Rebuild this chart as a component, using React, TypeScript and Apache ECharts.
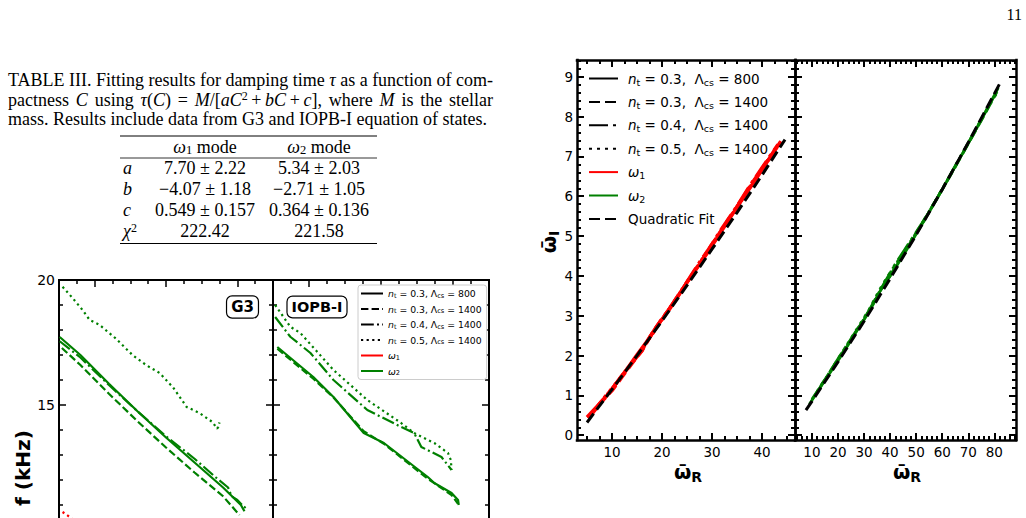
import React, { useEffect, useRef } from "react";
import * as echarts from "echarts";

type P = [number, number];

// ---------------- Page text ----------------
const PAGE_NUMBER = "11";
const CAPTION_LINES = [
  "TABLE III. Fitting results for damping time {i|τ} as a function of com-",
  "pactness {i|C} using {i|τ}({i|C}) = {i|M}/[{i|aC}{sup|2}\u2009+\u2009{i|bC}\u2009+\u2009{i|c}], where {i|M} is the stellar",
  "mass. Results include data from G3 and IOPB-I equation of states.",
];
const CAPTION_JUSTIFY = [true, true, false];
const TABLE_HEADERS = ["{i|ω}{sub|1} mode", "{i|ω}{sub|2} mode"];
const TABLE_ROW_LABELS = ["{i|a}", "{i|b}", "{i|c}", "{i|χ}{sup|2}"];
const TABLE_COL1 = ["7.70 ± 2.22", "−4.07 ± 1.18", "0.549 ± 0.157", "222.42"];
const TABLE_COL2 = ["5.34 ± 2.03", "−2.71 ± 1.05", "0.364 ± 0.136", "221.58"];

// ---------------- Left figure: f (kHz) ----------------
const F_Y_MAJOR = [5, 10, 15, 20];
const F_Y_LABELS = [15, 20];
const F_X_MAJOR = [1, 2, 3];
const F_Y_LABEL = "f (kHz)";
const PANEL_LABELS = ["G3", "IOPB-I"];

const G3_W2_SOLID: P[] = [[0.51, 17.72], [0.8, 17.0], [1.2, 15.85], [1.6, 14.75], [2.0, 13.7], [2.4, 12.7], [2.8, 11.7], [3.05, 11.0], [3.1, 10.75]];
const G3_W2_DASHED: P[] = [[0.54, 17.28], [0.8, 16.6], [1.2, 15.45], [1.6, 14.35], [2.0, 13.3], [2.4, 12.3], [2.8, 11.35], [3.03, 10.6]];
const G3_W2_DASHDOT: P[] = [[0.51, 17.55], [0.8, 16.9], [1.2, 15.8], [1.6, 14.75], [2.0, 13.75], [2.4, 12.85], [2.7, 12.1], [2.87, 11.7], [2.92, 11.35], [3.0, 11.2], [3.1, 10.9], [3.15, 11.0]];
const G3_W2_DOTTED: P[] = [[0.55, 19.73], [0.69, 19.28], [0.83, 18.8], [0.93, 18.4], [1.07, 18.2], [1.3, 17.65], [1.53, 17.0], [1.72, 16.6], [1.91, 16.28], [2.1, 15.7], [2.29, 14.92], [2.47, 14.68], [2.65, 14.32], [2.72, 14.05], [2.75, 14.3], [2.73, 14.1]];
const G3_W1_DOTTED: P[] = [[0.55, 10.72], [0.65, 10.52], [0.75, 10.3], [0.9, 9.95], [1.1, 9.5]];

const IOPB_W2_SOLID: P[] = [[0.56, 17.32], [1.06, 16.12], [1.34, 15.32], [1.76, 13.88], [2.04, 13.48], [2.65, 12.12], [2.74, 11.88], [2.98, 11.48], [3.07, 11.2], [3.08, 11.0]];
const IOPB_W2_DASHED: P[] = [[0.56, 17.25], [1.06, 16.05], [1.34, 15.3], [1.76, 13.95], [2.04, 13.45], [2.65, 12.05], [2.98, 11.4], [3.07, 11.05]];
const IOPB_W2_DASHDOT: P[] = [[0.53, 18.52], [0.74, 17.73], [1.02, 17.08], [1.34, 16.0], [1.81, 14.8], [2.28, 14.12], [2.46, 13.88], [2.56, 13.32], [2.7, 13.12], [2.84, 12.92], [2.98, 12.4]];
const IOPB_W2_DOTTED: P[] = [[0.53, 19.0], [0.74, 18.13], [0.88, 17.88], [1.34, 16.4], [1.81, 15.2], [2.28, 14.28], [2.46, 13.88], [2.74, 13.48], [2.93, 13.08], [2.97, 12.8], [2.98, 12.4]];

// ---------------- Right figure: omega_I vs omega_R ----------------
const OI_MAJOR = [0, 1, 2, 3, 4, 5, 6, 7, 8, 9];
const OR1_MAJOR = [10, 20, 30, 40];
const OR2_MAJOR = [10, 20, 30, 40, 50, 60, 70, 80];

const W1_FIT: P[] = [[5, 0.32], [10, 1.15], [15, 2.0], [20, 2.87], [25, 3.76], [30, 4.67], [35, 5.59], [40, 6.53], [44.6, 7.42]];
const W1_SOLID: P[] = [[5, 0.45], [7, 0.72], [9, 1.0], [11, 1.33], [13, 1.66], [15, 2.02], [17, 2.36], [19, 2.74], [21, 3.08], [23, 3.46], [25, 3.84], [27, 4.2], [29, 4.56], [31, 4.95], [33, 5.34], [35, 5.72], [37, 6.1], [39, 6.47], [41, 6.86], [43.6, 7.35]];
const W1_DASHED: P[] = [[5.3, 0.42], [7.5, 0.78], [10, 1.12], [12, 1.46], [14, 1.8], [16, 2.13], [18, 2.55], [20, 2.93], [22, 3.25], [24, 3.64], [26, 4.03], [28, 4.4], [30, 4.79], [32, 5.17], [34, 5.55], [36, 5.93], [38, 6.33], [40, 6.69], [42, 7.06], [43.8, 7.38]];
const W1_DASHDOT: P[] = [[6, 0.55], [8, 0.86], [10, 1.16], [12, 1.5], [14, 1.82], [16, 2.12], [17.5, 2.45], [19.5, 2.82], [21.5, 3.18], [23.5, 3.56], [25.5, 3.95], [27.5, 4.34], [29.5, 4.7], [31.5, 5.1], [33.5, 5.47], [35.5, 5.85], [37.5, 6.25], [39.5, 6.62], [41.5, 6.99], [43.2, 7.3]];
const W1_DOTTED: P[] = [[6.5, 0.62], [8.5, 0.95], [10.5, 1.25], [12.5, 1.58], [14.5, 1.9], [16.5, 2.25], [18.5, 2.62], [20.5, 3.0], [22.5, 3.36], [24.5, 3.74], [26.5, 4.12], [28.5, 4.5], [30.5, 4.88], [32.5, 5.26], [34.5, 5.64], [36.5, 6.02], [38.5, 6.4], [40.5, 6.78], [42.5, 7.12]];

const W2_FIT: P[] = [[7.7, 0.63], [10, 0.85], [20, 1.84], [30, 2.86], [40, 3.93], [50, 5.03], [60, 6.17], [70, 7.35], [82.5, 8.88]];
const W2_SOLID: P[] = [[9, 0.78], [12, 1.08], [15, 1.38], [18, 1.67], [21, 1.97], [24, 2.28], [27, 2.6], [30, 2.9], [33, 3.22], [36, 3.6], [39, 3.9], [42, 4.2], [46, 4.62], [50, 5.05], [55, 5.6], [60, 6.17], [65, 6.75], [70, 7.33], [75, 7.93], [81.5, 8.72]];
const W2_DASHED: P[] = [[10, 0.9], [14, 1.3], [18, 1.7], [22, 2.1], [26, 2.5], [30, 2.92], [34, 3.36], [37, 3.72], [40, 4.0], [44, 4.45], [48, 4.86], [53, 5.4], [58, 5.95], [64, 6.62], [70, 7.32], [76, 8.02], [81, 8.62]];
const W2_DASHDOT: P[] = [[11, 0.98], [16, 1.5], [21, 2.02], [26, 2.52], [31, 3.02], [35, 3.5], [38, 3.85], [42, 4.3], [46, 4.7], [52, 5.3], [58, 5.95], [66, 6.88], [74, 7.8], [80.5, 8.58]];
const W2_DOTTED: P[] = [[12, 1.1], [17, 1.6], [22, 2.12], [27, 2.64], [32, 3.16], [36, 3.66], [39, 3.98], [43, 4.38], [47, 4.78], [53, 5.38], [60, 6.18], [68, 7.1], [76, 8.05], [81, 8.6]];

// ---------------- Legend labels ----------------
const LEGEND_LEFT: Record<string, string> = {
  L1: "{it|n}{sub|t} = 0.3, Λ{sub|cs} = 800",
  L2: "{it|n}{sub|t} = 0.3, Λ{sub|cs} = 1400",
  L3: "{it|n}{sub|t} = 0.4, Λ{sub|cs} = 1400",
  L4: "{it|n}{sub|t} = 0.5, Λ{sub|cs} = 1400",
  L5: "{it|ω}{sub|1}",
  L6: "{it|ω}{sub|2}",
};
const LEGEND_RIGHT: Record<string, string> = {
  R1: "{it|n}{sub|t} = 0.3,  Λ{sub|cs} = 800",
  R2: "{it|n}{sub|t} = 0.3,  Λ{sub|cs} = 1400",
  R3: "{it|n}{sub|t} = 0.4,  Λ{sub|cs} = 1400",
  R4: "{it|n}{sub|t} = 0.5,  Λ{sub|cs} = 1400",
  R5: "{it|ω}{sub|1}",
  R6: "{it|ω}{sub|2}",
  R7: "Quadratic Fit",
};

// ---------------- Helpers ----------------
const SANS = "DejaVu Sans";
const SERIF = "Liberation Serif";
const RED = "#ff0000";
const GREEN = "#008000";
const CAP_FS = 18;
const CAP_SUP = 12;
const CAP_LH = 19;

function minors(from: number, to: number, step: number, majors: number[]) {
  const out: number[] = [];
  const n = Math.round((to - from) / step);
  for (let k = 0; k <= n; k++) {
    const v = +(from + k * step).toFixed(6);
    if (!majors.some((m) => Math.abs(m - v) < 1e-6)) out.push(v);
  }
  return out;
}

// Justify a rich caption line so that it spans the given width by widening word gaps.
function justify(line: string, width: number): string {
  const canvas = document.createElement("canvas");
  const ctx = canvas.getContext("2d");
  if (!ctx) return line;
  const re = /\{(\w+)\|([^}]*)\}/g;
  const segs: { style: string | null; text: string }[] = [];
  let last = 0;
  let m: RegExpExecArray | null;
  while ((m = re.exec(line))) {
    if (m.index > last) segs.push({ style: null, text: line.slice(last, m.index) });
    segs.push({ style: m[1], text: m[2] });
    last = m.index + m[0].length;
  }
  if (last < line.length) segs.push({ style: null, text: line.slice(last) });
  let nat = 0;
  let gaps = 0;
  for (const s of segs) {
    if (s.style === "i") ctx.font = `italic ${CAP_FS}px "${SERIF}"`;
    else if (s.style === "sup") ctx.font = `${CAP_SUP}px "${SERIF}"`;
    else ctx.font = `${CAP_FS}px "${SERIF}"`;
    if (s.style === null) {
      const parts = s.text.split(" ");
      gaps += parts.length - 1;
      for (const p of parts) nat += ctx.measureText(p).width;
    } else nat += ctx.measureText(s.text).width;
  }
  if (!gaps) return line;
  ctx.font = `${CAP_FS}px "${SERIF}"`;
  const sp = ctx.measureText(" ").width;
  const g = (width - nat) / gaps;
  if (g < sp * 0.8) return line;
  const key = Math.round(g * 100);
  let out = "";
  for (const s of segs) {
    if (s.style === null) out += s.text.split(" ").join(`{g${key}|\u00a0}`);
    else out += `{${s.style}|${s.text}}`;
  }
  return out;
}

interface AxSpec {
  min: number; max: number; major: number[]; minor: number[]; labelValues?: number[];
  labels: boolean; lw: number; tw: number; majLen: number; minLen: number; fs: number; margin: number;
}

function axes(dim: "x" | "y", gi: number, s: AxSpec) {
  const pA = dim === "x" ? "bottom" : "left";
  const pB = dim === "x" ? "top" : "right";
  const common = {
    type: "value", gridIndex: gi, min: s.min, max: s.max,
    splitLine: { show: false }, splitArea: { show: false }, minorTick: { show: false },
    axisPointer: { show: false }, silent: true,
  };
  const line = { show: true, onZero: false, lineStyle: { color: "#000", width: s.lw, cap: "square" } };
  const noLine = { show: false, onZero: false };
  const majTick = { show: true, inside: true, length: s.majLen, customValues: s.major, lineStyle: { color: "#000", width: s.tw } };
  const minTick = { show: true, inside: true, length: s.minLen, customValues: s.minor, lineStyle: { color: "#000", width: s.tw } };
  const label = { show: s.labels, customValues: s.labelValues || s.major, color: "#000", fontSize: s.fs, fontFamily: SANS, margin: s.margin };
  return [
    { ...common, position: pA, axisLine: line, axisTick: majTick, axisLabel: label },
    { ...common, position: pA, axisLine: noLine, axisTick: minTick, axisLabel: { show: false } },
    { ...common, position: pB, axisLine: line, axisTick: majTick, axisLabel: { show: false } },
    { ...common, position: pB, axisLine: noLine, axisTick: minTick, axisLabel: { show: false } },
  ];
}

function ln(name: string, data: P[], gi: number, color: string, dash: any, width: number, z = 3) {
  return {
    type: "line", name, data, xAxisIndex: gi * 4, yAxisIndex: gi * 4,
    symbol: "none", showSymbol: false, silent: true, z, clip: true,
    lineStyle: { color, width, type: dash }, itemStyle: { color },
  };
}

function buildOption() {
  const grid: any[] = [];
  const xAxis: any[] = [];
  const yAxis: any[] = [];
  const add = (g: any, xs: AxSpec, ys: AxSpec) => {
    grid.push({ ...g, containLabel: false, show: false });
    const gi = grid.length - 1;
    xAxis.push(...axes("x", gi, xs));
    yAxis.push(...axes("y", gi, ys));
    return gi;
  };

  const fX: AxSpec = { min: 0.5, max: 3.5, major: F_X_MAJOR, minor: minors(0.5, 3.5, 0.25, F_X_MAJOR), labels: false, lw: 2, tw: 1.5, majLen: 7, minLen: 4, fs: 14, margin: 5 };
  const fY: AxSpec = { min: 5, max: 20, major: F_Y_MAJOR, labelValues: F_Y_LABELS, minor: minors(5, 20, 1, F_Y_MAJOR), labels: true, lw: 2, tw: 1.5, majLen: 7, minLen: 4, fs: 14, margin: 4 };
  const gA = add({ left: 59, top: 280, width: 214, height: 375 }, fX, fY);
  const gB = add({ left: 273, top: 280, width: 216, height: 375 }, fX, { ...fY, labels: false });

  const oY: AxSpec = { min: -0.12, max: 9.42, major: OI_MAJOR, minor: minors(0, 9.4, 0.2, OI_MAJOR), labels: true, lw: 2.5, tw: 2, majLen: 7, minLen: 4, fs: 13.5, margin: 4 };
  const oX1: AxSpec = { min: 3, max: 46.6, major: OR1_MAJOR, minor: minors(5, 45, 2.5, OR1_MAJOR), labels: true, lw: 2.5, tw: 2, majLen: 7, minLen: 4, fs: 13.5, margin: 5 };
  const oX2: AxSpec = { min: 3.5, max: 88.3, major: OR2_MAJOR, minor: minors(4, 88, 2, OR2_MAJOR), labels: true, lw: 2.5, tw: 2, majLen: 7, minLen: 4, fs: 13.5, margin: 5 };
  const gC = add({ left: 577, top: 60, width: 218, height: 380 }, oX1, oY);
  const gD = add({ left: 795, top: 60, width: 221, height: 380 }, oX2, { ...oY, labels: false });

  const Ldash = [7.4, 3.2], Ldot = [2.2, 3.4], LdashDot = [12.8, 3.2, 2, 3.2];
  const Rdash = [11, 5], Rdot = [3, 5], RdashDot = [19, 5, 3, 5];

  const series: any[] = [
    // G3 panel
    ln("g3s", G3_W2_SOLID, gA, GREEN, "solid", 2.2),
    ln("g3d", G3_W2_DASHED, gA, GREEN, Ldash, 2.2),
    ln("g3dd", G3_W2_DASHDOT, gA, GREEN, LdashDot, 2.2),
    ln("g3o", G3_W2_DOTTED, gA, GREEN, Ldot, 2.2),
    ln("g3r", G3_W1_DOTTED, gA, RED, Ldot, 2.2),
    // IOPB-I panel
    ln("ios", IOPB_W2_SOLID, gB, GREEN, "solid", 2.2),
    ln("iod", IOPB_W2_DASHED, gB, GREEN, Ldash, 2.2),
    ln("iodd", IOPB_W2_DASHDOT, gB, GREEN, LdashDot, 2.2),
    ln("ioo", IOPB_W2_DOTTED, gB, GREEN, Ldot, 2.2),
    // left legend entries
    ln("L1", [], gB, "#000", "solid", 2.2),
    ln("L2", [], gB, "#000", Ldash, 2.2),
    ln("L3", [], gB, "#000", LdashDot, 2.2),
    ln("L4", [], gB, "#000", Ldot, 2.2),
    ln("L5", [], gB, RED, "solid", 2.2),
    ln("L6", [], gB, GREEN, "solid", 2.2),
    // omega1 panel
    ln("w1s", W1_SOLID, gC, RED, "solid", 3.5),
    ln("w1d", W1_DASHED, gC, RED, Rdash, 3.5),
    ln("w1dd", W1_DASHDOT, gC, RED, RdashDot, 3.5),
    ln("w1o", W1_DOTTED, gC, RED, Rdot, 3.5),
    ln("w1f", W1_FIT, gC, "#000", Rdash, 3, 5),
    // omega2 panel
    ln("w2s", W2_SOLID, gD, GREEN, "solid", 2.8),
    ln("w2d", W2_DASHED, gD, GREEN, Rdash, 2.8),
    ln("w2dd", W2_DASHDOT, gD, GREEN, RdashDot, 2.8),
    ln("w2o", W2_DOTTED, gD, GREEN, Rdot, 2.8),
    ln("w2f", W2_FIT, gD, "#000", Rdash, 3, 5),
    // right legend entries
    ln("R1", [], gC, "#000", "solid", 3),
    ln("R2", [], gC, "#000", Rdash, 3),
    ln("R3", [], gC, "#000", RdashDot, 3),
    ln("R4", [], gC, "#000", Rdot, 3),
    ln("R5", [], gC, RED, "solid", 3),
    ln("R6", [], gC, GREEN, "solid", 3),
    ln("R7", [], gC, "#000", Rdash, 3),
  ];

  const legend = [
    {
      data: Object.keys(LEGEND_LEFT), orient: "vertical", left: 358, top: 285,
      itemWidth: 22, itemHeight: 10, itemGap: 4.5, padding: [3, 5, 3, 2],
      borderColor: "#cccccc", borderWidth: 1, borderRadius: 3, backgroundColor: "#ffffff",
      itemStyle: { opacity: 0 }, selectedMode: false,
      formatter: (n: string) => LEGEND_LEFT[n],
      textStyle: {
        color: "#000", fontFamily: SANS, fontSize: 9.3, lineHeight: 11,
        rich: {
          it: { fontStyle: "italic", fontSize: 9.3, fontFamily: SANS, lineHeight: 11 },
          sub: { fontSize: 6.6, fontFamily: SANS, verticalAlign: "bottom", lineHeight: 7 },
        },
      },
    },
    {
      data: Object.keys(LEGEND_RIGHT), orient: "vertical", left: 588, top: 70,
      itemWidth: 29, itemHeight: 14, itemGap: 6.4, padding: 0,
      itemStyle: { opacity: 0 }, selectedMode: false,
      formatter: (n: string) => LEGEND_RIGHT[n],
      textStyle: {
        color: "#000", fontFamily: SANS, fontSize: 13.5, lineHeight: 17, padding: [0, 0, 0, 5],
        rich: {
          it: { fontStyle: "italic", fontSize: 13.5, fontFamily: SANS, lineHeight: 17 },
          sub: { fontSize: 9.5, fontFamily: SANS, verticalAlign: "bottom", lineHeight: 9 },
        },
      },
    },
  ];

  const tableRich = {
    i: { fontStyle: "italic", fontSize: 18, fontFamily: SERIF, lineHeight: 19 },
    sup: { fontSize: 12, fontFamily: SERIF, verticalAlign: "top", lineHeight: 10 },
    sub: { fontSize: 12.5, fontFamily: SERIF, verticalAlign: "bottom", lineHeight: 10 },
  };
  const txt = (text: string, x: number, y: number, align: string, rich: any, extra: any = {}) => ({
    type: "text", x, y, silent: true, z: 10,
    style: {
      text, fill: "#000", fontFamily: SERIF, fontSize: 18, lineHeight: 19,
      textAlign: align, align, textVerticalAlign: "middle", verticalAlign: "middle",
      rich, ...extra,
    },
  });

  const graphic: any[] = [];
  graphic.push(txt(PAGE_NUMBER, 1022, 14, "right", tableRich, { fontSize: 16 }));

  // caption (justified lines)
  const capY = [80, 99.5, 119];
  const CAP_X0 = 8, CAP_X1 = 493;
  CAPTION_LINES.forEach((l, i) => {
    const text = CAPTION_JUSTIFY[i] ? justify(l, CAP_X1 - CAP_X0) : l;
    const rich: any = {
      i: { fontStyle: "italic", fontSize: CAP_FS, fontFamily: SERIF, lineHeight: CAP_LH },
      sup: { fontSize: CAP_SUP, fontFamily: SERIF, verticalAlign: "top", lineHeight: 10 },
    };
    const gm = text.match(/\{g(\d+)\|/);
    if (gm) rich["g" + gm[1]] = { width: +gm[1] / 100, fontSize: CAP_FS, fontFamily: SERIF, lineHeight: CAP_LH };
    graphic.push(txt(text, CAP_X0, capY[i], "left", rich, { fontSize: CAP_FS, lineHeight: CAP_LH }));
  });

  // table rules
  const rule = (y: number, w: number) => ({ type: "line", silent: true, shape: { x1: 120, y1: y, x2: 377, y2: y }, style: { stroke: "#000", lineWidth: w } });
  graphic.push(rule(136, 1), rule(158, 0.8), rule(243.5, 1));
  graphic.push(txt(TABLE_HEADERS[0], 205, 147, "center", tableRich));
  graphic.push(txt(TABLE_HEADERS[1], 319, 147, "center", tableRich));
  const rowY = [168, 189, 210, 231];
  TABLE_ROW_LABELS.forEach((l, i) => {
    graphic.push(txt(l, 123, rowY[i], "left", tableRich));
    graphic.push(txt(TABLE_COL1[i], 205, rowY[i], "center", tableRich));
    graphic.push(txt(TABLE_COL2[i], 319, rowY[i], "center", tableRich));
  });

  // left figure labels
  graphic.push({
    type: "text", x: 23, y: 468, rotation: Math.PI / 2, silent: true,
    style: { text: F_Y_LABEL, fill: "#000", fontFamily: SANS, fontWeight: "bold", fontSize: 20, textAlign: "center", align: "center", textVerticalAlign: "middle", verticalAlign: "middle" },
  });
  const boxLabel = (t: string, x: number, y: number, fs: number) => ({
    type: "text", x, y, silent: true, z: 10,
    style: {
      text: t, fill: "#000", fontFamily: SANS, fontWeight: "bold", fontSize: fs, lineHeight: fs,
      textAlign: "center", align: "center", textVerticalAlign: "middle", verticalAlign: "middle",
      backgroundColor: "#fff", borderColor: "#000", borderWidth: 1.2, borderRadius: 5, padding: [3, 4, 3, 4],
    },
  });
  graphic.push(boxLabel(PANEL_LABELS[0], 242.5, 307, 15));
  graphic.push(boxLabel(PANEL_LABELS[1], 317, 307, 14.5));

  // right figure axis titles
  const omRich = {
    w: { fontFamily: SANS, fontWeight: "bold", fontSize: 20, lineHeight: 24 },
    s: { fontFamily: SANS, fontWeight: "bold", fontSize: 14, lineHeight: 14, verticalAlign: "bottom" },
  };
  const omLabel = (text: string, x: number, y: number, rot = 0) => ({
    type: "text", x, y, rotation: rot, silent: true,
    style: { text, fill: "#000", rich: omRich, fontFamily: SANS, fontSize: 20, textAlign: "center", align: "center", textVerticalAlign: "middle", verticalAlign: "middle" },
  });
  graphic.push(omLabel("{w|ω̄}{s|R}", 688, 472));
  graphic.push(omLabel("{w|ω̄}{s|R}", 907, 472));
  graphic.push(omLabel("{w|ω̄}{s|I}", 549, 242, Math.PI / 2));

  return { animation: false, backgroundColor: "#fff", grid, xAxis, yAxis, series, legend, graphic, tooltip: { show: false } };
}

export default function App() {
  const ref = useRef<HTMLDivElement>(null);
  useEffect(() => {
    const chart = echarts.init(ref.current!, null, { renderer: "svg" });
    chart.setOption(buildOption() as any);
    return () => chart.dispose();
  }, []);
  return (
    <div style={{ position: "fixed", left: 0, top: 0, width: 1026, height: 518, overflow: "hidden", background: "#fff" }}>
      <div ref={ref} style={{ width: 1026, height: 700 }} />
    </div>
  );
}
